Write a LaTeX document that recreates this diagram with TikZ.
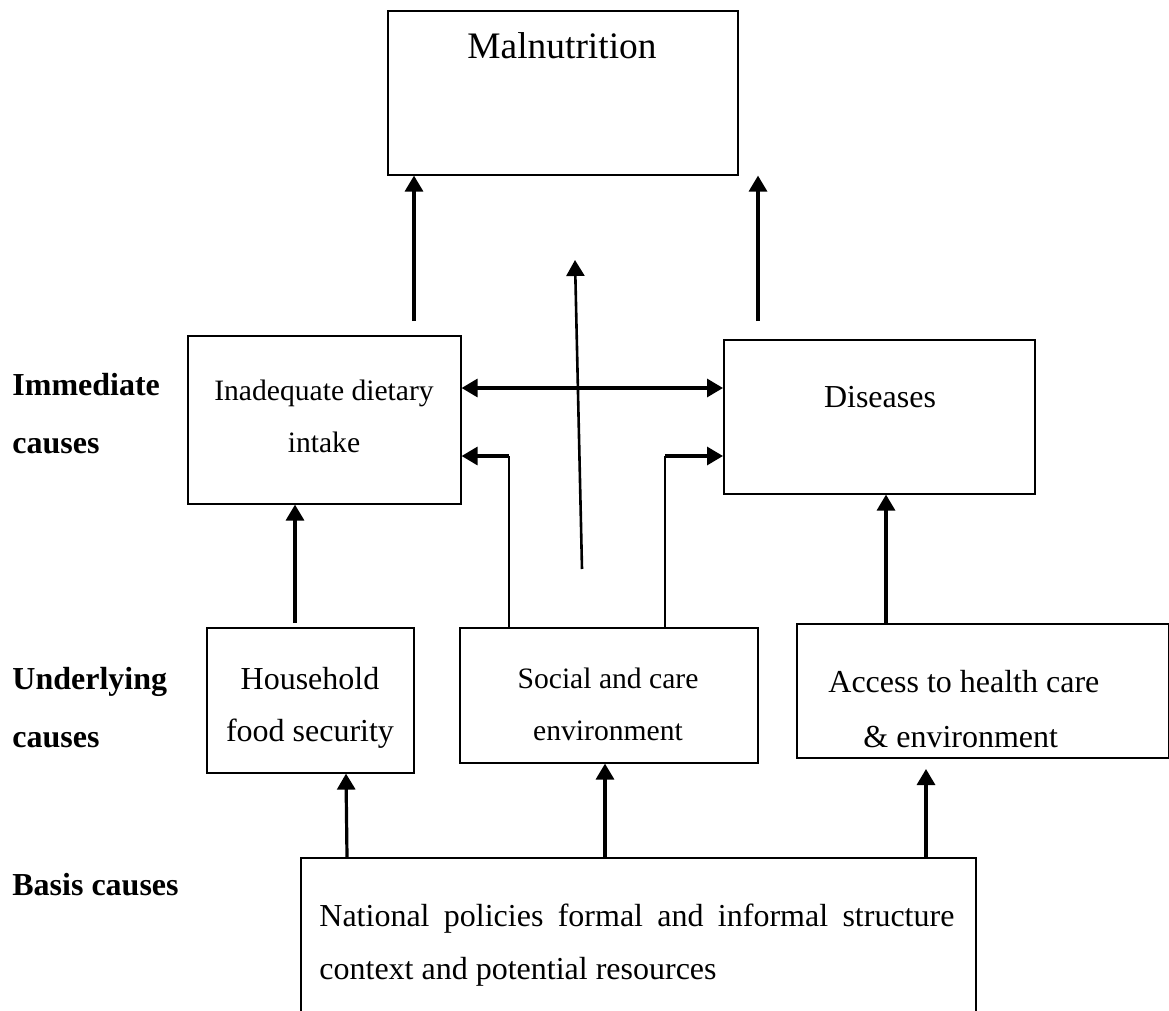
\documentclass[tikz,border=0pt]{standalone}
\usepackage{fontspec}
\setmainfont{Liberation Serif}
\usetikzlibrary{arrows.meta}
\begin{document}
\begin{tikzpicture}[x=0.5pt,y=-0.5pt,
 box/.style={draw, line width=0.8pt, inner sep=0, anchor=north west},
 arr/.style={line width=1.6pt, -{Triangle[length=8pt,width=9pt]}},
 dbl/.style={line width=1.6pt, {Triangle[length=8pt,width=9pt]}-{Triangle[length=8pt,width=9pt]}},
 thin/.style={line width=1pt},
 txt/.style={font=\fontsize{16}{26}\selectfont, align=center, inner sep=0},
 stxt/.style={font=\fontsize{14.8}{26}\selectfont, align=center, inner sep=0},
 lab/.style={font=\fontsize{16}{29}\selectfont\bfseries, align=left, anchor=west, inner sep=0}]
\useasboundingbox (0,0) rectangle (1169,1011);

% boxes
\node[box, minimum width=175pt, minimum height=82pt] (mal) at (387,10) {};
\node[box, minimum width=136.5pt, minimum height=84pt] (inad) at (187,335) {};
\node[box, minimum width=155.5pt, minimum height=77pt] (dis) at (723,339) {};
\node[box, minimum width=103.5pt, minimum height=72.5pt] (hh) at (206,627) {};
\node[box, minimum width=149pt, minimum height=67.5pt] (soc) at (459,627) {};
\node[box, minimum width=186pt, minimum height=67pt] (acc) at (796,623) {};
\node[box, minimum width=337.5pt, minimum height=100pt] (nat) at (300,857) {};

% texts
\node[txt, font=\fontsize{18.7}{22}\selectfont] (maltxt) at (562,46) {Malnutrition};
\node[stxt] (inadtxt) at (324,416) {Inadequate dietary\\intake};
\node[txt] (distxt) at (880,397) {Diseases};
\node[txt] (hhtxt) at (310,708) {Household\\food security};
\node[stxt] (soctxt) at (608,704) {Social and care\\environment};
\node[txt, anchor=west] (acctxt1) at (828,682) {Access to health care};
\node[txt, anchor=west] (acctxt2) at (863,737) {\& environment};
\node[txt, anchor=north west, text width=317.5pt, align=justify,
      font=\fontsize{16}{26.5}\selectfont] (nattxt) at (319,904)
  {National policies formal and informal structure context and potential resources};

% row labels
\node[lab] (l1) at (12,414) {Immediate\\causes};
\node[lab] (l2) at (12,708) {Underlying\\causes};
\node[lab] (l3) at (12,885) {Basis causes};

% free ends
\coordinate (s1) at (414,321);
\coordinate (s2) at (758,321);
\coordinate (c1) at (582,569);
\coordinate (c2) at (575,260);
\coordinate (e1) at (509,456);
\coordinate (e2) at (665,456);

% arrows to malnutrition
\draw[arr] (s1) -- (s1 |- mal.south);
\draw[arr] (s2) -- (s2 |- mal.south);
\draw[arr, line width=1.3pt] (c1) -- (c2);

% between immediate causes
\draw[dbl] (inad.east |- 0,388) -- (dis.west |- 0,388);
\draw[thin] (soc.north -| e1) -- (e1);
\draw[arr] (e1) -- (e1 -| inad.east);
\draw[thin] (soc.north -| e2) -- (e2);
\draw[arr] (e2) -- (e2 -| dis.west);

% from underlying causes
\draw[arr] (295,623) -- (inad.south -| 295,0);
\draw[arr] (acc.north -| 886,0) -- (dis.south -| 886,0);

% from basis causes
\draw[arr] (nat.north -| 347,0) -- (hh.south -| 346,0);
\draw[arr] (nat.north -| 605,0) -- (soc.south -| 605,0);
\draw[arr] (nat.north -| 926,0) -- (926,769);
\end{tikzpicture}
\end{document}
